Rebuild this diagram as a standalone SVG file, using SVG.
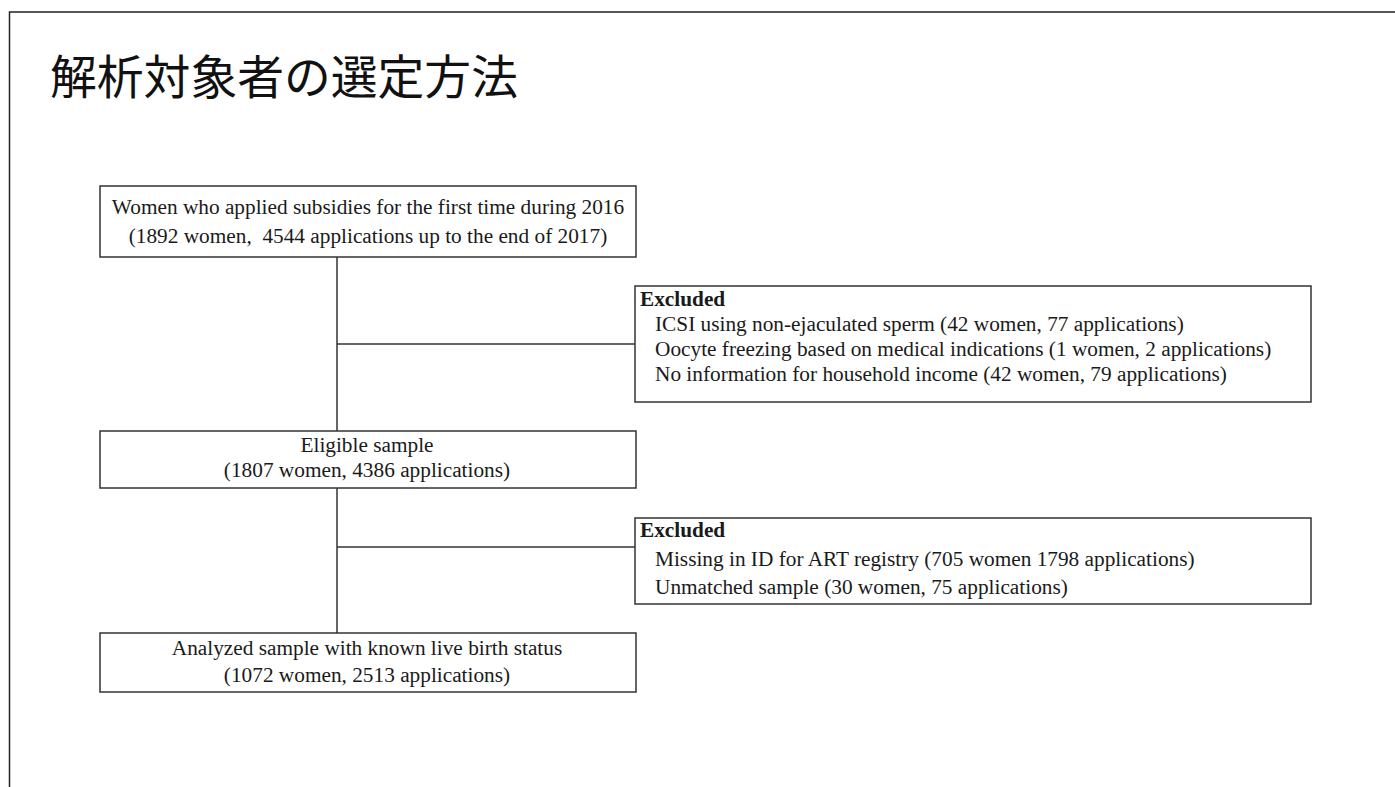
<svg xmlns="http://www.w3.org/2000/svg" width="1395" height="787" viewBox="0 0 1395 787">
<style>
.frame{fill:none;stroke:#222;stroke-width:1.5}
.box{fill:#fff;stroke:#333;stroke-width:1.5}
.ln{fill:none;stroke:#333;stroke-width:1.5}
.t{font-family:"Liberation Serif","Times New Roman",serif;font-size:21.3px;fill:#1a1a1a;white-space:pre}
.c{text-anchor:middle}
.b{font-weight:bold}
.title{font-family:"Noto Sans CJK JP","Noto Sans",sans-serif;font-size:46.8px;fill:#111}
</style>
<rect width="1395" height="787" fill="#fff"/>
<path class="frame" d="M9.5 787 V12 H1395"/>
<text class="title" x="50" y="94">解析対象者の選定方法</text>
<g id="connectors">
<path class="ln" d="M337 257 V431"/>
<path class="ln" d="M337 488 V633"/>
<path class="ln" d="M337 344 H635"/>
<path class="ln" d="M337 547 H635"/>
</g>
<g id="node-start">
<rect class="box" x="100" y="186" width="536" height="71"/>
<text class="t c" x="368" y="214">Women who applied subsidies for the first time during 2016</text>
<text class="t c" x="368" y="243">(1892 women,  4544 applications up to the end of 2017)</text>
</g>
<g id="node-excluded1">
<rect class="box" x="635" y="286" width="676" height="116"/>
<text class="t b" x="640" y="306">Excluded</text>
<text class="t" x="655" y="331">ICSI using non-ejaculated sperm (42 women, 77 applications)</text>
<text class="t" x="655" y="356">Oocyte freezing based on medical indications (1 women, 2 applications)</text>
<text class="t" x="655" y="381">No information for household income (42 women, 79 applications)</text>
</g>
<g id="node-eligible">
<rect class="box" x="100" y="431" width="536" height="57"/>
<text class="t c" x="367" y="452">Eligible sample</text>
<text class="t c" x="367" y="477">(1807 women, 4386 applications)</text>
</g>
<g id="node-excluded2">
<rect class="box" x="635" y="518" width="676" height="86"/>
<text class="t b" x="640" y="537">Excluded</text>
<text class="t" x="655" y="566">Missing in ID for ART registry (705 women 1798 applications)</text>
<text class="t" x="655" y="594">Unmatched sample (30 women, 75 applications)</text>
</g>
<g id="node-analyzed">
<rect class="box" x="100" y="633" width="536" height="59"/>
<text class="t c" x="367" y="655">Analyzed sample with known live birth status</text>
<text class="t c" x="367" y="682">(1072 women, 2513 applications)</text>
</g>
</svg>
